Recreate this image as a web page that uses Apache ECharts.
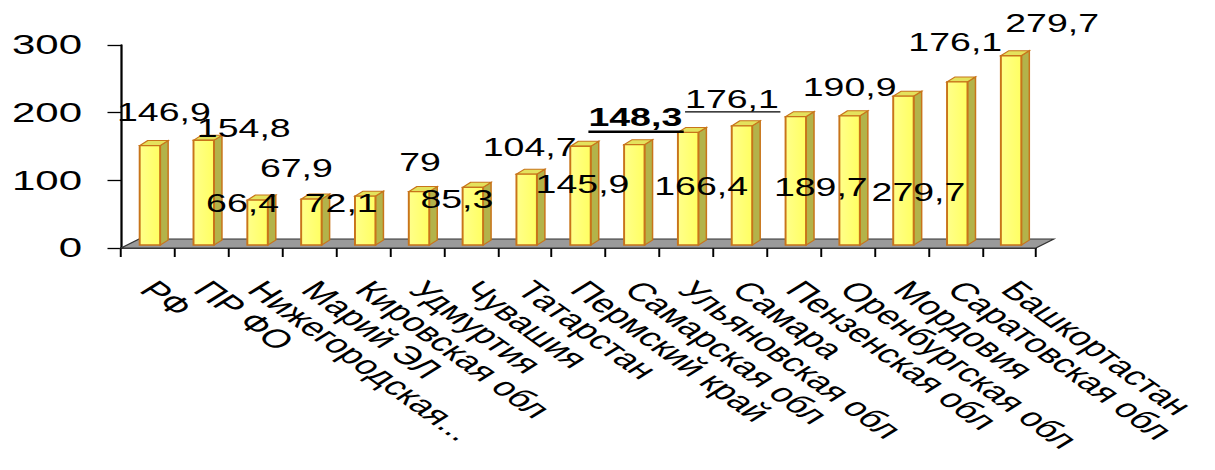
<!DOCTYPE html>
<html>
<head>
<meta charset="utf-8">
<script src="https://cdn.jsdelivr.net/npm/echarts@6/dist/echarts.min.js"></script>
<style>
html,body{margin:0;padding:0;background:#fff;overflow:hidden}
#wrap{width:1215px;height:470px;overflow:hidden;position:relative}
#chart{width:810px;height:470px;transform:scaleX(1.5);transform-origin:0 0}
</style>
</head>
<body>
<div id="wrap"><div id="chart"></div></div>
<script>
// ---- data ----
const categories = ['РФ','ПР ФО','Нижегородская...','Марий ЭЛ','Кировская обл','Удмуртия','Чувашия','Татарстан','Пермский край','Самарская обл','Ульяновская обл','Самара','Пензенская обл','Оренбургская обл','Мордовия','Саратовская обл','Башкортастан'];
const values = [146.9,154.8,66.4,67.9,72.1,79,85.3,104.7,145.9,148.3,166.4,176.1,189.7,190.9,220,241,279.7];
const labelTexts = ['146,9','154,8','66,4','67,9','72,1','79','85,3','104,7','145,9','148,3','166,4','176,1','189,7','190,9','279,7','176,1','279,7'];
const yTicks = [0,100,200,300];

// ---- layout (not data) ----
const STRETCH = 1.5;
// label offsets from bar top-centre, in final (stretched) pixels
const labelDX = [14,40,-15,-15,-24,1,-16,3,2,1,13,-10,25,0,15,-2,41];
const labelDY = [-33,-12,3,-31,7,-29,12,-27,38,-27,54,-26,71,-28,96,-40,-32];
// underline style per label: 0 none, 1 thin, 2 thick (bold)
const labelDecor = [0,0,0,0,0,0,0,0,0,2,0,1,0,0,0,0,0];

const FONT = "'Liberation Sans', Arial, sans-serif";
const measureCtx = document.createElement('canvas').getContext('2d');
function textWidth(t, size, weight) {
  measureCtx.font = (weight || 'normal') + ' ' + size + 'px ' + FONT;
  return measureCtx.measureText(t).width;
}

const FACE_FRAC = 0.38;
const DEPTH_DX = 8 / STRETCH, DEPTH_DY = -5;
const BAR_OX = 2 / STRETCH, BAR_OY = -3;

const chart = echarts.init(document.getElementById('chart'), null, {renderer: 'svg'});

function renderFloor(params, api) {
  const band = api.size([1, 0])[0];
  const p0 = api.coord([0, 0]);
  const pn = api.coord([categories.length - 1, 0]);
  const l = p0[0] - band / 2, r = pn[0] + band / 2, y = p0[1];
  const dx = 18 / STRETCH, dy = -9;
  return {
    type: 'polygon',
    shape: {points: [[l, y], [r, y], [r + dx, y + dy], [l + dx, y + dy]]},
    style: {fill: '#9a9a9a', stroke: '#333', lineWidth: 1}
  };
}

function renderBar(params, api) {
  const i = api.value(0), v = api.value(1);
  const band = api.size([1, 0])[0];
  const top = api.coord([i, v]);
  const base = api.coord([i, 0]);
  const w = band * FACE_FRAC;
  const cx = top[0] + BAR_OX;
  const x0 = cx - w / 2, x1 = cx + w / 2;
  const ty = top[1] + BAR_OY, by = base[1] + BAR_OY;
  const edge = '#c8741a';
  return {
    type: 'group',
    children: [
      {type: 'polygon', shape: {points: [[x1, ty], [x1 + DEPTH_DX, ty + DEPTH_DY], [x1 + DEPTH_DX, by + DEPTH_DY], [x1, by]]},
        style: {fill: '#b3b34a', stroke: edge, lineWidth: 1}},
      {type: 'polygon', shape: {points: [[x0, ty], [x0 + DEPTH_DX, ty + DEPTH_DY], [x1 + DEPTH_DX, ty + DEPTH_DY], [x1, ty]]},
        style: {fill: '#e4e25c', stroke: edge, lineWidth: 1}},
      {type: 'rect', shape: {x: x0, y: ty, width: w, height: by - ty},
        style: {fill: new echarts.graphic.LinearGradient(0, 0, 1, 0, [{offset: 0, color: '#ffff8a'}, {offset: 1, color: '#ffff62'}]), stroke: edge, lineWidth: 1.3}}
    ]
  };
}

function renderLabel(params, api) {
  const i = api.value(0), v = api.value(1);
  const top = api.coord([i, v]);
  const x = top[0] + BAR_OX + labelDX[i] / STRETCH;
  const y = top[1] + BAR_OY + labelDY[i];
  const decor = labelDecor[i];
  const weight = decor === 2 ? 'bold' : 'normal';
  const children = [{
    type: 'text', x: x, y: y,
    style: {text: labelTexts[i], fill: '#000', fontSize: 25, fontFamily: FONT, fontWeight: weight, align: 'center', verticalAlign: 'middle'}
  }];
  if (decor) {
    const tw = textWidth(labelTexts[i], 25, weight);
    const uy = y + (decor === 2 ? 14 : 12);
    children.push({type: 'line', shape: {x1: x - tw / 2, y1: uy, x2: x + tw / 2 + 1, y2: uy},
      style: {stroke: '#000', lineWidth: decor === 2 ? 2.5 : 1.2}});
  }
  return {type: 'group', children: children};
}

const option = {
  animation: false,
  backgroundColor: '#fff',
  grid: {left: 121 / STRETCH, right: 810 - 1036 / STRETCH, top: 45, bottom: 222, containLabel: false, outerBoundsMode: 'none'},
  xAxis: {
    type: 'category',
    data: categories,
    boundaryGap: true,
    axisLine: {show: true, lineStyle: {color: '#000', width: 1.5}},
    axisTick: {show: true, alignWithLabel: false, length: 9, lineStyle: {color: '#000', width: 1.3}},
    axisLabel: {rotate: -47, interval: 0, margin: 37, color: '#000', fontSize: 26, fontFamily: FONT}
  },
  yAxis: {
    type: 'value',
    min: yTicks[0], max: yTicks[yTicks.length - 1], interval: yTicks[1] - yTicks[0],
    axisLine: {show: true, lineStyle: {color: '#000', width: 1.5}},
    axisTick: {show: true, length: 9, lineStyle: {color: '#000', width: 1.3}},
    splitLine: {show: false},
    axisLabel: {margin: 26, color: '#000', fontSize: 28, fontFamily: FONT}
  },
  series: [
    {type: 'custom', name: 'floor', coordinateSystem: 'cartesian2d', renderItem: renderFloor, data: [[0, 0]], z: 1, silent: true},
    {type: 'custom', name: 'bars', coordinateSystem: 'cartesian2d', renderItem: renderBar,
      data: values.map((v, i) => [i, v]), encode: {x: 0, y: 1}, z: 3},
    {type: 'custom', name: 'labels', coordinateSystem: 'cartesian2d', renderItem: renderLabel,
      data: values.map((v, i) => [i, v]), encode: {x: 0, y: 1}, z: 5, silent: true}
  ]
};
chart.setOption(option);
</script>
</body>
</html>
